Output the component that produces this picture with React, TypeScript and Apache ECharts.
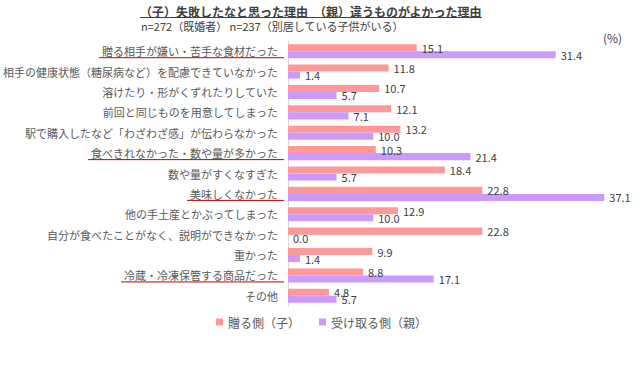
import React, { useEffect, useRef } from "react";
import * as echarts from "echarts";

const categories = [
  "贈る相手が嫌い・苦手な食材だった",
  "相手の健康状態（糖尿病など）を配慮できていなかった",
  "溶けたり・形がくずれたりしていた",
  "前回と同じものを用意してしまった",
  "駅で購入したなど「わざわざ感」が伝わらなかった",
  "食べきれなかった・数や量が多かった",
  "数や量がすくなすぎた",
  "美味しくなかった",
  "他の手土産とかぶってしまった",
  "自分が食べたことがなく、説明ができなかった",
  "重かった",
  "冷蔵・冷凍保管する商品だった",
  "その他",
];
const childValues = [15.1, 11.8, 10.7, 12.1, 13.2, 10.3, 18.4, 22.8, 12.9, 22.8, 9.9, 8.8, 4.8];
const parentValues = [31.4, 1.4, 5.7, 7.1, 10.0, 21.4, 5.7, 37.1, 10.0, 0.0, 1.4, 17.1, 5.7];
const underlinedCategories = [
  "贈る相手が嫌い・苦手な食材だった",
  "食べきれなかった・数や量が多かった",
  "美味しくなかった",
  "冷蔵・冷凍保管する商品だった",
];
const seriesNames = ["贈る側（子）", "受け取る側（親）"];
const titleText = "（子）失敗したなと思った理由　（親）違うものがよかった理由";
const subtitleText = "n=272（既婚者） n=237（別居している子供がいる）";
const unitText = "(%)";

const FONT = '"Noto Sans CJK JP", "Noto Sans", sans-serif';
const LABEL_MARGIN = 10;

function measure(text: string, size: number, weight = "normal") {
  const c = document.createElement("canvas");
  const ctx = c.getContext("2d")!;
  ctx.font = `${weight} ${size}px "Noto Sans CJK JP"`;
  return ctx.measureText(text).width;
}

export default function App() {
  const ref = useRef<HTMLDivElement>(null);
  useEffect(() => {
    document.body.style.margin = "0";
    const chart = echarts.init(ref.current!, null, { renderer: "svg" });
    const labelStyle = {
      show: true,
      position: "right" as const,
      distance: 5,
      fontSize: 11,
      lineHeight: 7,
      color: "#404040",
      fontFamily: FONT,
      formatter: (p: any) => Number(p.value).toFixed(1),
    };
    chart.setOption({
      animation: false,
      textStyle: { fontFamily: FONT },
      grid: { left: 287, right: 14, top: 41, bottom: 64, containLabel: false },
      xAxis: { type: "value", min: 0, max: 40, show: false },
      yAxis: {
        type: "category",
        inverse: true,
        data: categories,
        axisLine: { show: true, lineStyle: { color: "#D9D9D9", width: 1 } },
        axisTick: { show: false },
        axisLabel: { margin: LABEL_MARGIN, fontSize: 11, color: "#595959", fontFamily: FONT },
        splitLine: { show: false },
      },
      legend: {
        data: seriesNames,
        left: 211,
        top: 311,
        icon: "rect",
        itemWidth: 7,
        itemHeight: 7,
        itemGap: 19,
        textStyle: { fontSize: 12, color: "#595959", fontFamily: FONT },
      },
      series: [
        {
          name: seriesNames[0],
          type: "bar",
          data: childValues,
          itemStyle: { color: "#FF9999" },
          barGap: "0%",
          barCategoryGap: "31%",
          label: labelStyle,
        },
        {
          name: seriesNames[1],
          type: "bar",
          data: parentValues,
          itemStyle: { color: "#CC99FF" },
          barGap: "0%",
          barCategoryGap: "31%",
          label: labelStyle,
        },
      ],
    });

    const axisX = chart.convertToPixel({ xAxisIndex: 0 }, 0) as number;
    const titleW = measure(titleText, 12, "bold");
    const graphics: any[] = [
      {
        type: "text",
        left: 140,
        top: 5,
        style: { text: titleText, font: `bold 12px ${FONT}`, lineHeight: 13, fill: "#404040" },
      },
      {
        type: "line",
        shape: { x1: 140, y1: 17.5, x2: 140 + titleW, y2: 17.5 },
        style: { stroke: "#404040", lineWidth: 1 },
      },
      {
        type: "text",
        left: 141,
        top: 20.5,
        style: { text: subtitleText, font: `11px ${FONT}`, lineHeight: 11, fill: "#404040" },
      },
      {
        type: "text",
        left: 603,
        top: 31,
        style: { text: unitText, font: `12px ${FONT}`, fill: "#404040" },
      },
    ];
    underlinedCategories.forEach((cat) => {
      const y = chart.convertToPixel({ yAxisIndex: 0 }, cat) as number;
      const w = measure(cat, 11);
      const xEnd = axisX - 4;
      const xStart = axisX - LABEL_MARGIN - w - 3;
      graphics.push({
        type: "line",
        shape: { x1: xStart, y1: y + 6.5, x2: xEnd, y2: y + 6.5 },
        style: { stroke: "#C00000", lineWidth: 1 },
      });
    });
    chart.setOption({ graphic: graphics });
    return () => chart.dispose();
  }, []);
  return <div ref={ref} style={{ width: 643, height: 370 }} />;
}
